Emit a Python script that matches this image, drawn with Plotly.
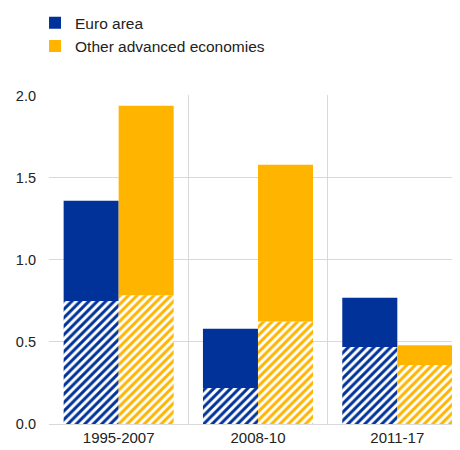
import plotly.graph_objects as go

categories = ["1995-2007", "2008-10", "2011-17"]
euro_total = [1.36, 0.58, 0.77]
euro_hatched = [0.75, 0.22, 0.47]
other_total = [1.94, 1.58, 0.48]
other_hatched = [0.785, 0.625, 0.36]

BLUE = "#003299"
YELLOW = "#FFB400"
W = 0.395

fig = go.Figure()

def add(series_total, series_hatch, color, name, offset):
    fig.add_trace(go.Bar(
        x=categories, y=series_hatch, width=W, offset=offset,
        marker=dict(color="white", line=dict(width=0),
                    pattern=dict(shape="/", fgcolor=color, bgcolor="white",
                                 fgopacity=1, size=6, solidity=0.5,
                                 fillmode="replace")),
        showlegend=False, name=name + " (hatched)"))
    fig.add_trace(go.Bar(
        x=categories, y=[t - h for t, h in zip(series_total, series_hatch)],
        base=series_hatch, width=W, offset=offset,
        marker=dict(color=color, line=dict(width=0)),
        name=name, showlegend=True))

add(euro_total, euro_hatched, BLUE, "Euro area", -W)
add(other_total, other_hatched, YELLOW, "Other advanced economies", 0)

fig.update_layout(
    width=452, height=442,
    margin=dict(l=41, r=0, t=87, b=26, autoexpand=False),
    barmode="overlay",
    plot_bgcolor="white", paper_bgcolor="white",
    font=dict(family="Liberation Sans, Arial, sans-serif", size=14, color="#222222"),
    legend=dict(x=-0.034, y=1.27, xanchor="left", yanchor="top",
                orientation="v", font=dict(size=15.5, color="#222222"),
                itemwidth=30, tracegroupgap=0, bgcolor="rgba(0,0,0,0)"),
    xaxis=dict(type="category", range=[-0.5, 2.45], tickson="boundaries", showgrid=True,
               gridcolor="#d9d9d9", gridwidth=1, ticks="", showline=True,
               linecolor="#d9d9d9", tickfont=dict(size=15)),
    yaxis=dict(range=[0, 2.005], tickvals=[0, 0.5, 1.0, 1.5, 2.0],
               ticktext=["0.0", "0.5", "1.0", "1.5", "2.0"],
               showgrid=True, gridcolor="#d9d9d9", gridwidth=1, zeroline=False,
               showline=False, ticks="", ticklabelstandoff=12,
               tickfont=dict(size=14.5)),
)

fig.write_html("out.html")
